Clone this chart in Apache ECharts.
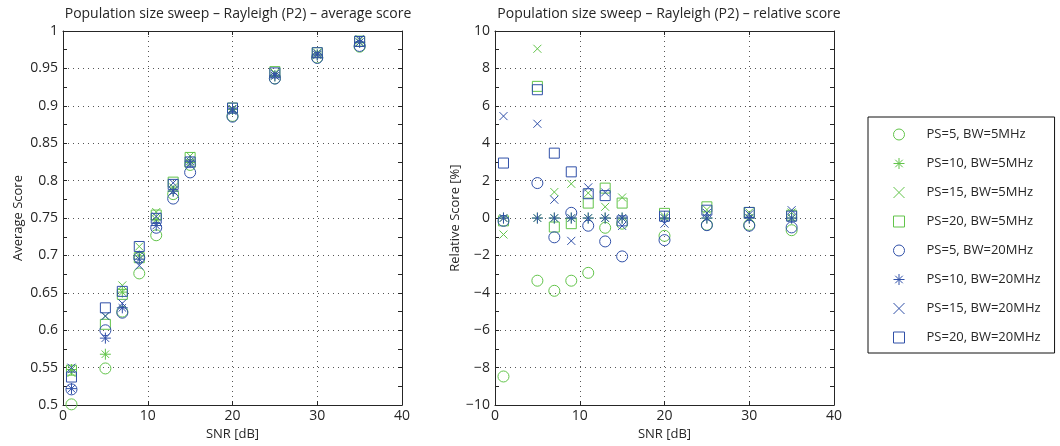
<!DOCTYPE html>
<html>
<head>
<meta charset="utf-8">
<script src="https://cdn.jsdelivr.net/npm/echarts@6/dist/echarts.min.js"></script>
<style>
html,body{margin:0;padding:0;background:#fff;}
#chart{width:1060px;height:446px;}
</style>
</head>
<body>
<div id="chart"></div>
<script>
// ---- data ----
const snr = [1, 5, 7, 9, 11, 13, 15, 20, 25, 30, 35];
const seriesNames = ['PS=5, BW=5MHz', 'PS=10, BW=5MHz', 'PS=15, BW=5MHz', 'PS=20, BW=5MHz',
                     'PS=5, BW=20MHz', 'PS=10, BW=20MHz', 'PS=15, BW=20MHz', 'PS=20, BW=20MHz'];
// Average score
const avgPS5_5   = [0.501, 0.549, 0.625, 0.676, 0.727, 0.782, 0.821, 0.8865, 0.9366, 0.9645, 0.979];
const avgPS10_5  = [0.5475, 0.568, 0.651, 0.6995, 0.748, 0.786, 0.824, 0.895, 0.940, 0.968, 0.985];
const avgPS15_5  = [0.543, 0.619, 0.660, 0.712, 0.758, 0.791, 0.833, 0.896, 0.944, 0.971, 0.988];
const avgPS20_5  = [0.5467, 0.608, 0.648, 0.697, 0.754, 0.798, 0.831, 0.897, 0.9457, 0.971, 0.9865];
const avgPS5_20  = [0.521, 0.600, 0.6235, 0.697, 0.737, 0.776, 0.811, 0.8855, 0.9364, 0.964, 0.980];
const avgPS10_20 = [0.522, 0.5895, 0.630, 0.695, 0.740, 0.786, 0.826, 0.896, 0.940, 0.968, 0.985];
const avgPS15_20 = [0.550, 0.619, 0.636, 0.6865, 0.752, 0.797, 0.8225, 0.893, 0.9425, 0.970, 0.989];
const avgPS20_20 = [0.5375, 0.630, 0.652, 0.712, 0.7496, 0.795, 0.825, 0.897, 0.944, 0.971, 0.986];
// Relative score [%]
const relPS5_5   = [-8.47, -3.35, -3.89, -3.35, -2.93, -0.52, -0.3, -0.95, -0.36, -0.36, -0.65];
const relPS10_5  = [0, 0, 0, 0, 0, 0, 0, 0, 0, 0, 0];
const relPS15_5  = [-0.88, 9.05, 1.39, 1.83, 1.34, 0.6, 1.1, 0.1, 0.45, 0.3, 0.3];
const relPS20_5  = [-0.15, 7.04, -0.48, -0.3, 0.8, 1.6, 0.8, 0.25, 0.6, 0.3, 0.15];
const relPS5_20  = [-0.15, 1.87, -1.03, 0.28, -0.41, -1.25, -2.05, -1.18, -0.38, -0.41, -0.5];
const relPS10_20 = [0, 0, 0, 0, 0, 0, 0, 0, 0, 0, 0];
const relPS15_20 = [5.45, 5.04, 0.98, -1.22, 1.64, 1.37, -0.42, -0.3, 0.27, 0.2, 0.42];
const relPS20_20 = [2.94, 6.86, 3.47, 2.47, 1.3, 1.2, -0.15, 0.1, 0.42, 0.3, 0.1];
const xTicks = [0, 10, 20, 30, 40];

// ---- styling ----
const GREEN = '#62c44a';
const BLUE = '#3050a8';
const TXT = '#262626';
const FONT = 'Open Sans';
const FS = 14;
const SYM_STAR = 'path://M5,0 L5,10 M0,5 L10,5 M1.6,1.6 L8.4,8.4 M8.4,1.6 L1.6,8.4';
const SYM_X = 'path://M0,0 L10,10 M10,0 L0,10';
const markers = [
  {sym: 'circle', size: 11, color: GREEN},
  {sym: SYM_STAR, size: 11, color: GREEN},
  {sym: SYM_X, size: 8, color: GREEN},
  {sym: 'rect', size: 10, color: GREEN},
  {sym: 'circle', size: 11, color: BLUE},
  {sym: SYM_STAR, size: 11, color: BLUE},
  {sym: SYM_X, size: 8, color: BLUE},
  {sym: 'rect', size: 10, color: BLUE}
];
const avgData = [avgPS5_5, avgPS10_5, avgPS15_5, avgPS20_5, avgPS5_20, avgPS10_20, avgPS15_20, avgPS20_20];
const relData = [relPS5_5, relPS10_5, relPS15_5, relPS20_5, relPS5_20, relPS10_20, relPS15_20, relPS20_20];

const axisLine = {show: true, onZero: false, lineStyle: {color: TXT, width: 1}};
const tick = {show: true, inside: true, length: 4, lineStyle: {color: TXT}};
const minorTick = {show: true, splitNumber: 2, length: 4, lineStyle: {color: TXT}};
const split = {show: true, lineStyle: {color: '#555', type: [1, 4], width: 1}};
const lbl = {color: TXT, fontFamily: FONT, fontSize: FS};
const minusFmt = v => String(v).replace('-', '\u2212');

function mainX(grid) {
  return {
    type: 'value', gridIndex: grid, position: 'bottom', min: 0, max: 40, interval: 10,
    name: 'SNR [dB]', nameLocation: 'middle', nameGap: 22,
    nameTextStyle: {color: TXT, fontFamily: FONT, fontSize: 13},
    axisLine: axisLine, axisTick: tick, splitLine: split,
    axisLabel: Object.assign({margin: 4, formatter: v => xTicks.includes(v) ? String(v) : ''}, lbl)
  };
}
function boxX(grid) {
  return {
    type: 'value', gridIndex: grid, position: 'top', min: 0, max: 40, interval: 10,
    axisLine: axisLine, axisTick: tick, splitLine: {show: false}, axisLabel: {show: false}
  };
}
function boxY(grid, min, max, interval) {
  return {
    type: 'value', gridIndex: grid, position: 'right', min: min, max: max, interval: interval,
    axisLine: axisLine, axisTick: tick, minorTick: minorTick, splitLine: {show: false}, axisLabel: {show: false}
  };
}

const series = [];
for (let i = 0; i < 8; i++) {
  const m = markers[i];
  const common = {
    type: 'scatter', name: seriesNames[i], symbol: m.sym, symbolSize: m.size,
    itemStyle: {color: 'rgba(0,0,0,0)', borderColor: m.color, borderWidth: 1, opacity: 1},
    emphasis: {disabled: true}, animation: false
  };
  series.push(Object.assign({}, common, {xAxisIndex: 0, yAxisIndex: 0,
    data: snr.map((x, k) => [x, avgData[i][k]])}));
  series.push(Object.assign({}, common, {xAxisIndex: 2, yAxisIndex: 2,
    data: snr.map((x, k) => [x, relData[i][k]])}));
}

const legendData = seriesNames.map((n, i) => ({
  name: n,
  icon: markers[i].sym,
  itemStyle: {color: 'rgba(0,0,0,0)', borderColor: markers[i].color, borderWidth: 1, opacity: 1}
}));

const option = {
  backgroundColor: '#fff',
  animation: false,
  title: [
    {text: 'Population size sweep \u2013 Rayleigh (P2) \u2013 average score', left: 233, top: 2, textAlign: 'center',
     textStyle: {color: TXT, fontFamily: FONT, fontSize: FS, fontWeight: 'normal'}},
    {text: 'Population size sweep \u2013 Rayleigh (P2) \u2013 relative score', left: 664, top: 2, textAlign: 'center',
     textStyle: {color: TXT, fontFamily: FONT, fontSize: FS, fontWeight: 'normal'}}
  ],
  grid: [
    {left: 63, top: 31, width: 339, height: 375, containLabel: false},
    {left: 495, top: 31, width: 339, height: 375, containLabel: false}
  ],
  xAxis: [mainX(0), boxX(0), mainX(1), boxX(1)],
  yAxis: [
    {type: 'value', gridIndex: 0, position: 'left', min: 0.5, max: 1, interval: 0.05,
     name: 'Average Score', nameLocation: 'middle', nameGap: 38,
     nameTextStyle: {color: TXT, fontFamily: FONT, fontSize: 13},
     axisLine: axisLine, axisTick: tick, minorTick: minorTick, splitLine: split,
     axisLabel: Object.assign({margin: 5, formatter: v => String(+v.toFixed(2))}, lbl)},
    boxY(0, 0.5, 1, 0.05),
    {type: 'value', gridIndex: 1, position: 'left', min: -10, max: 10, interval: 2,
     name: 'Relative Score [%]', nameLocation: 'middle', nameGap: 32,
     nameTextStyle: {color: TXT, fontFamily: FONT, fontSize: 13},
     axisLine: axisLine, axisTick: tick, minorTick: minorTick, splitLine: split,
     axisLabel: Object.assign({margin: 5, formatter: minusFmt}, lbl)},
    boxY(1, -10, 10, 2)
  ],
  legend: {
    show: true, orient: 'vertical', left: 868, top: 117,
    padding: [11, 14, 9, 25], itemGap: 16, itemWidth: 11, itemHeight: 11,
    borderColor: '#111', borderWidth: 1, backgroundColor: '#fff', borderRadius: 0,
    selectedMode: false, symbolKeepAspect: true,
    textStyle: {color: TXT, fontFamily: FONT, fontSize: 13, padding: [0, 0, 0, 17]},
    data: legendData
  },
  series: series
};

const chart = echarts.init(document.getElementById('chart'), null, {renderer: 'canvas'});
chart.setOption(option);
</script>
</body>
</html>
